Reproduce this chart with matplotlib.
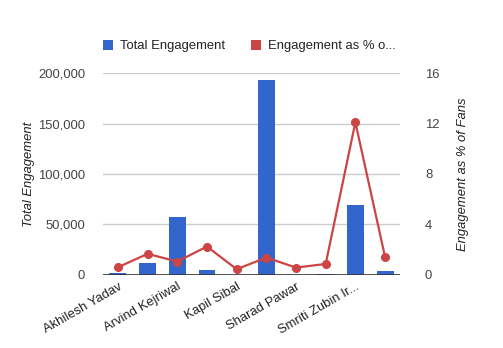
import matplotlib
matplotlib.use("Agg")
import matplotlib.pyplot as plt
from matplotlib.patches import Patch

plt.rcParams['font.family'] = ['Liberation Sans', 'DejaVu Sans']

# category names (only every other one is shown on the axis)
politicians = ["Akhilesh Yadav", "Amit Shah", "Arvind Kejriwal", "Digvijaya Singh",
               "Kapil Sibal", "Narendra Modi", "Sharad Pawar", "Shashi Tharoor",
               "Smriti Zubin Ir...", "Sushma Swaraj"]
total_engagement = [2300, 12200, 56900, 5000, 0, 192700, 0, 1300, 68800, 3600]
engagement_pct = [0.61, 1.67, 1.06, 2.25, 0.45, 1.38, 0.58, 0.87, 12.1, 1.43]

BLUE = '#3366cc'
RED = '#cc4444'
GRID = '#cccccc'
TEXT = '#444444'

fig = plt.figure(figsize=(5.03, 3.48), dpi=100, facecolor='white')
ax = fig.add_axes([0.205, 0.210, 0.590, 0.580])
ax2 = ax.twinx()

x = list(range(len(politicians)))
ax.bar(x, total_engagement, width=0.57, color=BLUE, zorder=2)
ax2.plot(x, engagement_pct, color=RED, lw=1.6, marker='o', markersize=5.5,
         zorder=3)

ax.set_xlim(-0.5, len(politicians) - 0.5)
ax.set_ylim(0, 200000)
ax2.set_ylim(0, 16)
ax.set_yticks([0, 50000, 100000, 150000, 200000])
ax.set_yticklabels(['0', '50,000', '100,000', '150,000', '200,000'])
ax2.set_yticks([0, 4, 8, 12, 16])

ax.set_xticks(x[::2])
ax.set_xticklabels(politicians[::2], rotation=30, ha='right',
                   rotation_mode='anchor')

ax.grid(axis='y', color=GRID, lw=1, zorder=0)
ax.set_axisbelow(True)
ax.axhline(0, color='#333333', lw=1.2, zorder=4)

ax.set_zorder(ax2.get_zorder() - 1)
ax2.patch.set_visible(False)
ax.patch.set_visible(False)

for a in (ax, ax2):
    for s in a.spines.values():
        s.set_visible(False)

ax.tick_params(axis='y', length=0, pad=13, labelsize=9.4, labelcolor=TEXT)
ax.tick_params(axis='x', length=0, pad=4, labelsize=9.4, labelcolor='#222222')
ax2.tick_params(axis='y', length=0, pad=18, labelsize=9.4, labelcolor=TEXT)

ax.set_ylabel('Total Engagement', fontstyle='italic', fontsize=9.4,
              color='#222222', labelpad=2)
ax2.set_ylabel('Engagement as % of Fans', fontstyle='italic', fontsize=9.4,
               color='#222222', labelpad=13)

handles = [Patch(facecolor=BLUE, edgecolor='none'),
           Patch(facecolor=RED, edgecolor='none')]
fig.legend(handles, ['Total Engagement', 'Engagement as % o...'],
           loc='center left', bbox_to_anchor=(0.181, 0.868), ncol=2,
           frameon=False, fontsize=9.4, handlelength=0.8, handleheight=0.8,
           handletextpad=0.5, columnspacing=2.0, labelcolor='#222222')

fig.savefig('out.png', dpi=100, facecolor='white')
